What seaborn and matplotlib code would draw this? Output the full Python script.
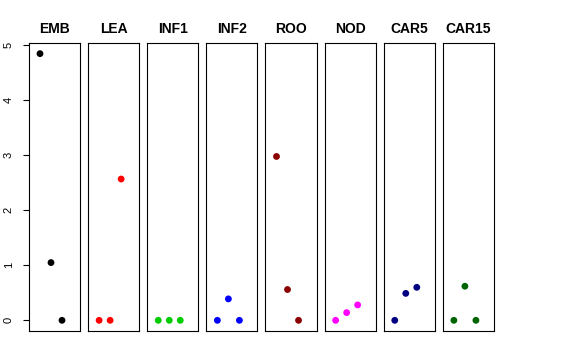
import matplotlib
matplotlib.use("Agg")
import matplotlib.pyplot as plt
import pandas as pd
import seaborn as sns

# --- DATA ---
tissues = ["EMB", "LEA", "INF1", "INF2", "ROO", "NOD", "CAR5", "CAR15"]
replicate = [1, 2, 3]
emb = [4.85, 1.05, 0.0]
lea = [0.0, 0.0, 2.57]
inf1 = [0.0, 0.0, 0.0]
inf2 = [0.0, 0.39, 0.0]
roo = [2.98, 0.56, 0.0]
nod = [0.0, 0.14, 0.28]
car5 = [0.0, 0.49, 0.60]
car15 = [0.0, 0.62, 0.0]
colors = ["black", "red", "#00CD00", "blue", "#8B0000", "magenta", "#000080", "#006400"]
yticks = [0, 1, 2, 3, 4, 5]

values = [emb, lea, inf1, inf2, roo, nod, car5, car15]

# --- STYLE ---
sns.set_style("white")
plt.rcParams["font.family"] = ["Liberation Sans", "DejaVu Sans"]
plt.rcParams["text.color"] = "black"
plt.rcParams["axes.titlecolor"] = "black"
plt.rcParams["ytick.color"] = "black"
plt.rcParams["ytick.labelcolor"] = "black"

fig, axes = plt.subplots(1, 8, figsize=(5.76, 3.6), dpi=100, sharey=True)
fig.subplots_adjust(left=0.0503, right=0.8576, bottom=0.0806, top=0.8806, wspace=0.157)

ymax = max(max(v) for v in values)
ext = 0.04 * ymax

for ax, name, vals, col in zip(axes, tissues, values, colors):
    df = pd.DataFrame({"rep": replicate, "value": vals})
    sns.scatterplot(data=df, x="rep", y="value", color=col, s=24,
                    edgecolor="none", ax=ax, legend=False)
    ax.set_xlim(0, 4.64)
    ax.set_ylim(-ext, ymax + ext)
    ax.set_title(name, fontsize=10, fontweight="bold", pad=7, color="black")
    ax.set_xlabel("")
    ax.set_ylabel("")
    ax.set_xticks([])
    for sp in ax.spines.values():
        sp.set_color("black")
        sp.set_linewidth(0.8)
    ax.tick_params(axis="y", left=False, labelleft=False)

axes[0].set_yticks(yticks)
axes[0].tick_params(axis="y", left=True, labelleft=True, length=4, width=0.8,
                    direction="out", pad=7, labelsize=8, labelrotation=90,
                    color="black", labelcolor="black")
for lbl in axes[0].get_yticklabels():
    lbl.set_verticalalignment("center")

plt.savefig("out.png", dpi=100)
